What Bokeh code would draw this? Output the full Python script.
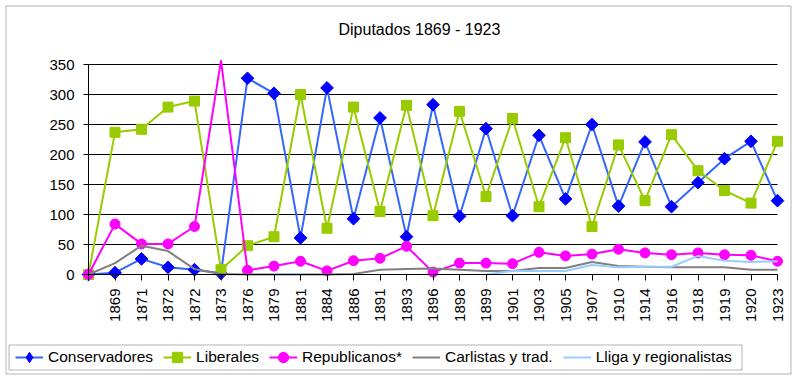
import math
from bokeh.plotting import figure
from bokeh.models import (Range1d, FixedTicker, Legend, LegendItem, Label, BoxAnnotation,
                          ColumnDataSource, CDSView, BooleanFilter)
from bokeh.embed import file_html
from bokeh.resources import INLINE

NaN = float("nan")

categories = ["", "1869", "1871", "1872", "1872", "1873", "1876", "1879", "1881", "1884",
              "1886", "1891", "1893", "1896", "1898", "1899", "1901", "1903", "1905", "1907",
              "1910", "1914", "1916", "1918", "1919", "1920", "1923"]
conservadores = [0, 3, 26, 12, 8, 2, 327, 302, 61, 311, 93, 261, 63, 283, 97, 243, 98, 232,
                 126, 250, 114, 221, 113, 153, 193, 222, 123]
liberales = [0, 237, 242, 279, 289, 8, 48, 63, 300, 77, 279, 105, 282, 98, 272, 130, 260, 113,
             228, 80, 216, 123, 233, 173, 140, 119, 222]
republicanos = [0, 84, 51, 51, 80, 357, 7, 14, 22, 6, 23, 27, 47, 4, 19, 19, 18, 37, 31, 34,
                42, 36, 33, 36, 33, 32, 22]
carlistas = [0, 19, 48, 39, 9, 1, 0, 0, 0, 0, 1, 8, 9, 10, 8, 6, 6, 11, 11, 21, 14, 13, 12, 12,
             12, 8, 8]
lliga = [NaN, NaN, NaN, NaN, NaN, NaN, NaN, 0, 0, NaN, NaN, NaN, NaN, NaN, NaN, 0, 6, 6, 6, 16,
         12, 13, 13, 31, 23, 21, 22]
y_ticks = [0, 50, 100, 150, 200, 250, 300, 350]
title_text = "Diputados 1869 - 1923"

# ---- layout (pixels) ----
FONT = "Liberation Sans"
W, H = 797, 376
X_FIRST_PX, X_LAST_PX = 88, 777      # where first / last category sit
Y_ZERO_PX, Y_TOP_PX = 274, 64        # where 0 / top tick sit (from top of canvas)

xs = list(range(len(categories)))
n = len(categories) - 1
px_per_cat = (X_LAST_PX - X_FIRST_PX) / n
px_per_unit = (Y_ZERO_PX - Y_TOP_PX) / y_ticks[-1]
x_start = -X_FIRST_PX / px_per_cat
x_end = n + (W - X_LAST_PX) / px_per_cat
y_end = Y_ZERO_PX / px_per_unit
y_start = -(H - Y_ZERO_PX) / px_per_unit

p = figure(width=W, height=H, output_backend="svg", toolbar_location=None, title=None,
           x_range=Range1d(x_start, x_end), y_range=Range1d(y_start, y_end),
           min_border=0)
p.outline_line_color = None
p.background_fill_color = "white"
p.border_fill_color = "white"
p.xgrid.visible = False
p.ygrid.visible = False


def screen_box(left, right, top, bottom):
    return BoxAnnotation(left=left, right=right, top=H - top, bottom=H - bottom,
                         left_units="screen", right_units="screen",
                         top_units="screen", bottom_units="screen",
                         fill_alpha=0, line_color="black", line_width=1)


# outer chart border and legend frame
p.add_layout(screen_box(5.5, 790.5, 5.5, 373.5))
p.add_layout(screen_box(8.5, 741.5, 344.5, 369.5))

# title
p.add_layout(Label(x=338, y=H - 29, x_units="screen", y_units="screen", text=title_text,
                   text_font=FONT, text_font_size="16px", text_color="black",
                   text_align="left", text_baseline="middle"))

# horizontal gridlines
p.segment(x0=[xs[0]] * len(y_ticks), x1=[xs[-1]] * len(y_ticks), y0=y_ticks, y1=y_ticks,
          line_color="black", line_width=1)

# axes
yax = p.yaxis[0]
yax.ticker = FixedTicker(ticks=y_ticks)
yax.fixed_location = xs[0]
yax.bounds = (y_ticks[0], y_ticks[-1])
yax.axis_line_color = "black"
yax.major_tick_out = 5
yax.major_tick_in = 0
yax.minor_tick_out = 0
yax.minor_tick_in = 0
yax.major_label_standoff = 9
yax.major_tick_line_color = "black"
yax.major_label_text_font = FONT
yax.major_label_text_font_size = "15px"
yax.major_label_text_color = "black"

xax = p.xaxis[0]
xax.ticker = FixedTicker(ticks=xs)
xax.major_label_overrides = {i: c for i, c in zip(xs, categories)}
xax.fixed_location = y_ticks[0]
xax.bounds = (xs[0], xs[-1])
xax.axis_line_color = "black"
xax.major_tick_out = 6
xax.major_tick_in = 0
xax.minor_tick_out = 0
xax.minor_tick_in = 0
xax.major_label_standoff = 8
xax.major_label_orientation = math.pi / 2
xax.major_tick_line_color = "black"
xax.major_label_text_font = FONT
xax.major_label_text_font_size = "15px"
xax.major_label_text_color = "black"


def marker_src(vals):
    src = ColumnDataSource(dict(x=xs, y=vals))
    # markers beyond the value axis maximum are clipped (not drawn)
    view = CDSView(filter=BooleanFilter([v <= y_ticks[-1] for v in vals]))
    return src, view


items = []
# Conservadores
l1 = p.line(xs, conservadores, line_color="#3366FF", line_width=2)
s, v = marker_src(conservadores)
p.scatter("x", "y", source=s, view=v, marker="square", angle=math.pi / 4, size=9,
          fill_color="#0000FF", line_color="#0000FF")
# legend swatch for the diamond (legend swatches are never rotated); zero size in the plot
k1 = p.scatter("x", "y", source=s, view=v, marker="diamond", size=0,
               fill_color="#0000FF", line_color="#0000FF")
items.append(LegendItem(label="Conservadores", renderers=[l1, k1]))
# Liberales
l2 = p.line(xs, liberales, line_color="#99CC00", line_width=2)
s, v = marker_src(liberales)
m2 = p.scatter("x", "y", source=s, view=v, marker="square", size=10,
               fill_color="#99CC00", line_color="#99CC00")
items.append(LegendItem(label="Liberales", renderers=[l2, m2]))
# Republicanos
l3 = p.line(xs, republicanos, line_color="#FF00FF", line_width=2)
s, v = marker_src(republicanos)
m3 = p.scatter("x", "y", source=s, view=v, marker="circle", size=10,
               fill_color="#FF00FF", line_color="#FF00FF")
items.append(LegendItem(label="Republicanos*", renderers=[l3, m3]))
# Carlistas
l4 = p.line(xs, carlistas, line_color="#808080", line_width=2)
items.append(LegendItem(label="Carlistas y trad.", renderers=[l4]))
# Lliga
l5 = p.line(xs, lliga, line_color="#99CCFF", line_width=2)
items.append(LegendItem(label="Lliga y regionalistas", renderers=[l5]))

legend = Legend(items=items, orientation="horizontal", location=(15, H - 370),
                border_line_color=None, background_fill_alpha=0,
                padding=0, margin=0, spacing=10, glyph_width=28, glyph_height=26,
                label_standoff=5, label_height=26,
                label_text_font=FONT, label_text_font_size="15.5px",
                label_text_color="black")
p.add_layout(legend, "center")

open("out.html", "w").write(file_html(p, INLINE))
